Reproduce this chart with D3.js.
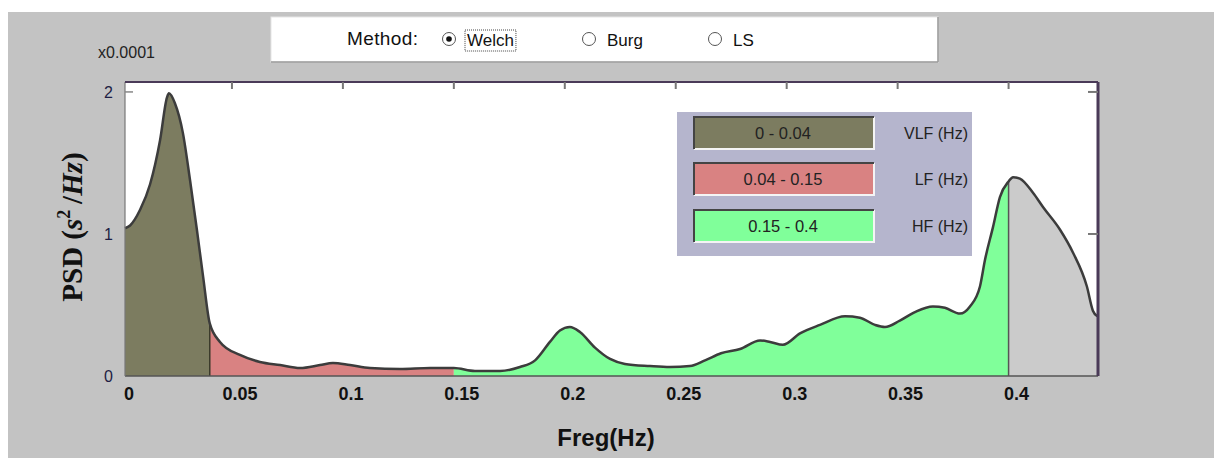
<!DOCTYPE html>
<html>
<head>
<meta charset="utf-8">
<script src="https://cdn.jsdelivr.net/npm/d3@7"></script>
<style>
  body { margin: 0; background: #fff; }
  svg { display: block; }
</style>
</head>
<body>
<script>
// spectrum (Hz, x0.0001 s^2/Hz)
const freq = [0.0018, 0.0041, 0.0086, 0.0131, 0.0176, 0.0207, 0.0216, 0.0243, 0.0279, 0.0311, 0.0342, 0.0370, 0.04,
  0.0446, 0.0536, 0.0626, 0.0717, 0.0807, 0.0897, 0.0955, 0.1032, 0.1122, 0.1257, 0.1393, 0.15,
  0.1595, 0.1708, 0.1798, 0.1866, 0.1933, 0.1978, 0.2023, 0.2068, 0.2136, 0.2204, 0.2271, 0.2384, 0.2474, 0.2564,
  0.2632, 0.2704, 0.2790, 0.2880, 0.2925, 0.2983, 0.3060, 0.3150, 0.3263, 0.3330, 0.3398, 0.3443, 0.3510, 0.3578,
  0.3659, 0.3713, 0.3781, 0.3826, 0.3871, 0.3894, 0.3930, 0.3961, 0.4, 0.4020, 0.4051, 0.4110, 0.4155, 0.4232,
  0.4290, 0.4353, 0.4380, 0.4400];
const psd = [1.04, 1.06, 1.17, 1.35, 1.66, 1.96, 1.99, 1.92, 1.71, 1.38, 1.03, 0.70, 0.37,
  0.24, 0.148, 0.099, 0.077, 0.056, 0.077, 0.092, 0.077, 0.056, 0.049, 0.056, 0.056,
  0.035, 0.035, 0.063, 0.11, 0.24, 0.32, 0.345, 0.31, 0.20, 0.12, 0.085, 0.07, 0.063, 0.07,
  0.11, 0.16, 0.19, 0.25, 0.24, 0.22, 0.30, 0.36, 0.42, 0.41, 0.36, 0.345, 0.39, 0.45,
  0.49, 0.48, 0.44, 0.49, 0.63, 0.82, 1.05, 1.26, 1.37, 1.40, 1.39, 1.29, 1.19, 1.03,
  0.87, 0.63, 0.46, 0.42];

const bandNames = ["VLF (Hz)", "LF (Hz)", "HF (Hz)"];
const bandRanges = ["0 - 0.04", "0.04 - 0.15", "0.15 - 0.4"];
const bandLo = [0, 0.04, 0.15, 0.4];
const bandHi = [0.04, 0.15, 0.4, 0.44];
const bandColors = ["#7c7c60", "#d98282", "#80ff9a", "#cbcbcb"];

const xTicks = [0, 0.05, 0.1, 0.15, 0.2, 0.25, 0.3, 0.35, 0.4];
const yTicks = [0, 1, 2];
const methods = ["Welch", "Burg", "LS"];

const W = 1214, H = 458;
const sans = "Liberation Sans, Arial, sans-serif";
const svg = d3.select("body").append("svg").attr("width", W).attr("height", H);

// grey panel
svg.append("rect").attr("x", 8).attr("y", 12).attr("width", W - 8).attr("height", H - 12).attr("fill", "#c3c3c3");

// method box
const mb = svg.append("g");
mb.append("rect").attr("x", 271).attr("y", 17).attr("width", 667).attr("height", 45)
  .attr("fill", "#fff").attr("stroke", "#e6e6e6");
mb.append("line").attr("x1", 271).attr("x2", 938).attr("y1", 62).attr("y2", 62).attr("stroke", "#9a9a9a").attr("stroke-width", 1.5);
mb.append("line").attr("x1", 938).attr("x2", 938).attr("y1", 17).attr("y2", 62).attr("stroke", "#9a9a9a").attr("stroke-width", 1.5);
mb.append("text").attr("x", 347).attr("y", 45).attr("font-family", sans)
  .attr("font-size", 19).attr("fill", "#111").attr("textLength", 71).text("Method:");
const mx = [449, 589, 715];
methods.forEach((m, i) => {
  const g = mb.append("g");
  g.append("circle").attr("cx", mx[i]).attr("cy", 39).attr("r", 6.5)
    .attr("fill", "#fff").attr("stroke", "#555").attr("stroke-width", 1);
  if (i === 0) g.append("circle").attr("cx", mx[i]).attr("cy", 39).attr("r", 2.8).attr("fill", "#111");
  const t = g.append("text").attr("x", mx[i] + 18).attr("y", 46)
    .attr("font-family", sans).attr("font-size", 17).attr("fill", "#111").text(m);
  if (i === 0) {
    const bb = t.node().getBBox();
    g.append("rect").attr("x", bb.x - 2).attr("y", bb.y - 1).attr("width", bb.width + 4).attr("height", bb.height + 2)
      .attr("fill", "none").attr("stroke", "#444").attr("stroke-dasharray", "1,1");
  }
});

// scales
const x = d3.scaleLinear().domain([freq[0], 0.4403]).range([125, 1098]);
const y = d3.scaleLinear().domain([0, 2.07]).range([376, 82]);

// plot background
svg.append("rect").attr("x", x(freq[0])).attr("y", y(2.07)).attr("width", x(0.4403) - x(freq[0]))
  .attr("height", y(0) - y(2.07)).attr("fill", "#fff");

const pts = freq.map((f, i) => ({ f: f, v: psd[i] }));
const area = d3.area().x(d => x(d.f)).y0(y(0)).y1(d => y(d.v)).curve(d3.curveMonotoneX);
const line = d3.line().x(d => x(d.f)).y(d => y(d.v)).curve(d3.curveMonotoneX);

svg.selectAll("path.band")
  .data(bandLo)
  .enter()
  .append("path")
  .attr("class", "band")
  .attr("d", (lo, i) => area(pts.filter(p => p.f >= lo - 1e-9 && p.f <= bandHi[i] + 1e-9)))
  .attr("fill", (d, i) => bandColors[i]);

// band edges
svg.selectAll("line.edge")
  .data([0.04, 0.4])
  .enter()
  .append("line")
  .attr("x1", d => x(d)).attr("x2", d => x(d))
  .attr("y1", y(0)).attr("y2", d => y(psd[freq.indexOf(d)]))
  .attr("stroke", (d, i) => i === 0 ? "#3a3a2a" : "#555").attr("stroke-width", 1.5);

svg.append("path").attr("d", line(pts)).attr("fill", "none")
  .attr("stroke", "#3c3c3c").attr("stroke-width", 2.5).attr("stroke-linejoin", "round");

// frame
const fx0 = x(freq[0]), fx1 = x(0.4403), fy0 = y(2.07), fy1 = y(0);
svg.append("line").attr("x1", fx0).attr("x2", fx1).attr("y1", fy1).attr("y2", fy1).attr("stroke", "#555").attr("stroke-width", 1.5);
svg.append("line").attr("x1", fx0).attr("x2", fx0).attr("y1", fy0).attr("y2", fy1).attr("stroke", "#777").attr("stroke-width", 1.2);
svg.append("line").attr("x1", fx0).attr("x2", fx1).attr("y1", fy0).attr("y2", fy0).attr("stroke", "#4a3a58").attr("stroke-width", 2);
svg.append("line").attr("x1", fx1).attr("x2", fx1).attr("y1", fy0).attr("y2", fy1).attr("stroke", "#4a3a58").attr("stroke-width", 3);

// top ticks
svg.selectAll("line.tt")
  .data(xTicks.filter(d => d > 0))
  .enter()
  .append("line")
  .attr("x1", d => x(d)).attr("x2", d => x(d))
  .attr("y1", fy0).attr("y2", fy0 + 7)
  .attr("stroke", "#777").attr("stroke-width", 2);

// y ticks inside
svg.selectAll("line.yl")
  .data(yTicks.filter(d => d > 0))
  .enter()
  .append("line")
  .attr("x1", fx1 - 10).attr("x2", fx1)
  .attr("y1", d => y(d)).attr("y2", d => y(d))
  .attr("stroke", "#777").attr("stroke-width", 2);
svg.append("line").attr("x1", fx0).attr("x2", fx0 + 8).attr("y1", y(2)).attr("y2", y(2))
  .attr("stroke", "#888").attr("stroke-width", 1.5);

// x tick labels
svg.selectAll("text.xt")
  .data(xTicks)
  .enter()
  .append("text")
  .attr("x", d => x(d) + 8)
  .attr("y", 400)
  .attr("text-anchor", "middle")
  .attr("font-family", sans)
  .attr("font-weight", "bold")
  .attr("font-size", 18)
  .attr("fill", "#111")
  .text(d => d);

// y tick labels
svg.selectAll("text.yt")
  .data(yTicks)
  .enter()
  .append("text")
  .attr("x", 113)
  .attr("y", d => y(d) + 6)
  .attr("text-anchor", "end")
  .attr("font-family", sans)
  .attr("font-size", 16)
  .attr("fill", "#1e1e44")
  .text(d => d);

svg.append("text").attr("x", 98).attr("y", 58)
  .attr("font-family", sans).attr("font-size", 16).attr("fill", "#222")
  .text("x0.0001");

svg.append("text").attr("x", 606).attr("y", 446).attr("text-anchor", "middle")
  .attr("font-family", sans).attr("font-weight", "bold")
  .attr("font-size", 24).attr("fill", "#111").text("Freg(Hz)");

const yl = svg.append("text").attr("transform", "translate(82,227) rotate(-90)").attr("text-anchor", "middle")
  .attr("font-family", "Liberation Serif, DejaVu Serif, serif").attr("font-weight", "bold")
  .attr("font-size", 29).attr("fill", "#111");
yl.append("tspan").text("PSD (");
yl.append("tspan").attr("font-style", "italic").text("s");
yl.append("tspan").attr("font-size", 18).attr("dy", -12).text("2");
yl.append("tspan").attr("dy", 12).text("\u2009/");
yl.append("tspan").attr("font-style", "italic").text("Hz");
yl.append("tspan").text(")");

// legend panel
const lg = svg.append("g");
lg.append("rect").attr("x", 677).attr("y", 112).attr("width", 295).attr("height", 144).attr("fill", "#b5b5cd");
const sy = [117, 163, 210];
bandNames.forEach((n, i) => {
  lg.append("rect").attr("x", 694).attr("y", sy[i]).attr("width", 180).attr("height", 32)
    .attr("fill", bandColors[i]);
  lg.append("polyline").attr("points", `694,${sy[i] + 32} 874,${sy[i] + 32} 874,${sy[i]}`)
    .attr("fill", "none").attr("stroke", "#f4f4f4").attr("stroke-width", 2);
  lg.append("polyline").attr("points", `694,${sy[i] + 32} 694,${sy[i]} 874,${sy[i]}`)
    .attr("fill", "none").attr("stroke", "#444").attr("stroke-width", 2);
  lg.append("text").attr("x", 783).attr("y", sy[i] + 22).attr("text-anchor", "middle")
    .attr("font-family", sans).attr("font-size", 16.5).attr("fill", "#222")
    .text(bandRanges[i]);
  lg.append("text").attr("x", 968).attr("y", sy[i] + 22).attr("text-anchor", "end")
    .attr("font-family", sans).attr("font-size", 16).attr("fill", "#222")
    .text(n);
});
</script>
</body>
</html>
